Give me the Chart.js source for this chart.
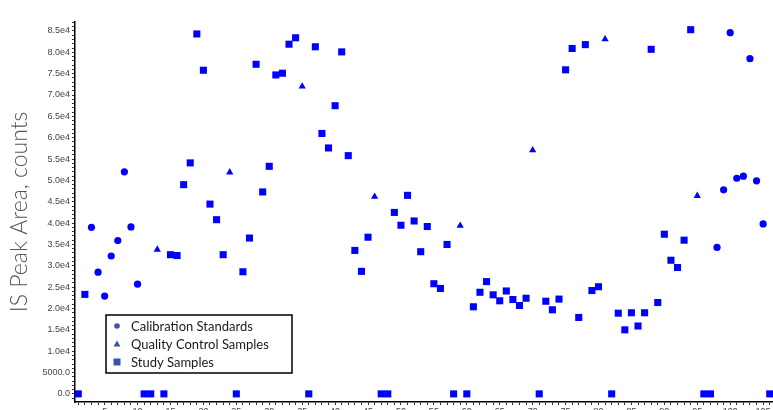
<!DOCTYPE html>
<html>
<head>
<meta charset="utf-8">
<title>IS Peak Area</title>
<script src="https://cdn.jsdelivr.net/npm/chart.js@4.4.0/dist/chart.umd.min.js"></script>
<style>
  html, body { margin: 0; padding: 0; background: #fff; overflow: hidden; }
  #wrap { width: 773px; height: 410px; overflow: hidden; position: relative; }
  #peakChart { display: block; }
</style>
</head>
<body>
<div id="wrap"><canvas id="peakChart" width="785" height="425"></canvas></div>
<script>
// sample index -> IS peak area (counts)
const calSamples = [3, 4, 5, 6, 7, 8, 9, 10, 98, 99, 100, 101, 102, 103, 104, 105];
const calValues = [39000, 28500, 22900, 32300, 35900, 52000, 39100, 25700, 34300, 47800, 84600, 50500, 51000, 78500, 49900, 39800];

const qcSamples = [13, 24, 35, 46, 59, 70, 81, 95];
const qcValues = [33800, 51900, 72000, 46200, 39400, 57100, 83100, 46400];

const studySamples = [1, 2, 11, 12, 14, 15, 16, 17, 18, 19, 20, 21, 22, 23,
    25, 26, 27, 28, 29, 30, 31, 32, 33, 34,
    36, 37, 38, 39, 40, 41, 42, 43, 44, 45,
    47, 48, 49, 50, 51, 52, 53, 54, 55, 56, 57, 58,
    60, 61, 62, 63, 64, 65, 66, 67, 68, 69,
    71, 72, 73, 74, 75, 76, 77, 78, 79, 80,
    82, 83, 84, 85, 86, 87, 88, 89, 90, 91, 92, 93, 94,
    96, 97, 106];
const studyValues = [0, 23300, 0, 0, 0, 32600, 32400, 49000, 54100, 84300, 75800, 44450, 40800, 32600,
    0, 28600, 36500, 77200, 47300, 53300, 74700, 75100, 81900, 83400,
    0, 81300, 61000, 57600, 67500, 80100, 55800, 33600, 28700, 36700,
    0, 0, 42500, 39500, 46500, 40500, 33300, 39200, 25800, 24700, 35000, 0,
    0, 20400, 23800, 26300, 23200, 21800, 24100, 22100, 20700, 22400,
    0, 21700, 19700, 22200, 75900, 80900, 17900, 81800, 24200, 25100,
    0, 18900, 15000, 19000, 15900, 19000, 80700, 21400, 37400, 31300, 29600, 36000, 85300,
    0, 0, 0];

const seriesLabels = ['Calibration Standards', 'Quality Control Samples', 'Study Samples'];

const xTicks = [];
for (let i = 1; i <= 106; i++) xTicks.push(i);
const yTicks = [];
for (let v = -1000; v <= 87000; v += 1000) yTicks.push(v);

function toPoints(xs, ys) {
    return xs.map((x, i) => ({ x: x, y: ys[i] }));
}

function yLabel(v) {
    if (v % 5000 !== 0 || v < 0) return '';
    if (v === 0) return '0.0';
    if (v < 10000) return v.toFixed(1);
    return (v / 10000).toFixed(1) + 'e4';
}

// boxed legend sitting inside the plot, bottom left
const legendBox = {
    id: 'legendBox',
    afterDraw(chart) {
        const ctx = chart.ctx;
        const x = 106, y = 315, w = 186, h = 58;
        ctx.save();
        ctx.fillStyle = '#fff';
        ctx.fillRect(x, y, w, h);
        ctx.strokeStyle = '#000';
        ctx.lineWidth = 1.5;
        ctx.strokeRect(x, y, w, h);
        ctx.font = '13px Lato, "Open Sans", sans-serif';
        ctx.textBaseline = 'middle';
        const rows = [326, 344, 362];
        chart.data.datasets.forEach((ds, i) => {
            const my = rows[i], mx = 117;
            ctx.fillStyle = '#3a52a8';
            ctx.beginPath();
            if (ds.pointStyle === 'circle') {
                ctx.arc(mx, my, 2.8, 0, Math.PI * 2);
            } else if (ds.pointStyle === 'triangle') {
                ctx.moveTo(mx, my - 3.6);
                ctx.lineTo(mx + 3.4, my + 2.4);
                ctx.lineTo(mx - 3.4, my + 2.4);
                ctx.closePath();
            } else {
                ctx.rect(mx - 3.5, my - 3.5, 7, 7);
            }
            ctx.fill();
            ctx.fillStyle = '#1a1a1a';
            ctx.fillText(ds.label, 131, my + 0.5);
        });
        ctx.restore();
    }
};

function initChart() {
    const data = {
        datasets: [{
            label: seriesLabels[0],
            data: toPoints(calSamples, calValues),
            pointStyle: 'circle',
            pointRadius: 3.6,
            backgroundColor: '#0000ff',
            borderColor: '#0000ff',
            borderWidth: 0
        }, {
            label: seriesLabels[1],
            data: toPoints(qcSamples, qcValues),
            pointStyle: 'triangle',
            pointRadius: 4.2,
            backgroundColor: '#0000ff',
            borderColor: '#0000ff',
            borderWidth: 0
        }, {
            label: seriesLabels[2],
            data: toPoints(studySamples, studyValues),
            pointStyle: 'rect',
            pointRadius: 5,
            backgroundColor: '#0000ff',
            borderColor: '#0000ff',
            borderWidth: 0
        }]
    };

    const tickFont = { family: '"Liberation Sans", Arial, sans-serif', size: 9 };

    const config = {
        type: 'scatter',
        data,
        options: {
            responsive: false,
            animation: false,
            clip: false,
            layout: { padding: { top: 22, left: 0, right: 12, bottom: 0 } },
            plugins: {
                legend: { display: false },
                tooltip: { enabled: false }
            },
            scales: {
                x: {
                    type: 'linear',
                    min: 0.5,
                    max: 106.5,
                    afterBuildTicks: (axis) => { axis.ticks = xTicks.map(v => ({ value: v })); },
                    afterFit: (axis) => { axis.height = 23; },
                    border: { display: true, color: '#000', width: 1.5 },
                    grid: { drawOnChartArea: false, drawTicks: true, tickLength: 3, color: '#333' },
                    ticks: {
                        autoSkip: false,
                        maxRotation: 0,
                        padding: 1,
                        color: '#444',
                        font: tickFont,
                        callback: (v) => (v % 5 === 0 ? String(v) : '')
                    }
                },
                y: {
                    type: 'linear',
                    min: -1900,
                    max: 87100,
                    afterBuildTicks: (axis) => { axis.ticks = yTicks.map(v => ({ value: v })); },
                    afterFit: (axis) => { axis.width = 75; },
                    border: { display: true, color: '#000', width: 1.5 },
                    grid: { drawOnChartArea: false, drawTicks: true, tickLength: 3, color: '#333' },
                    ticks: {
                        autoSkip: false,
                        padding: 2,
                        color: '#444',
                        font: tickFont,
                        callback: (v) => yLabel(v)
                    },
                    title: {
                        display: true,
                        text: 'IS Peak Area, counts',
                        color: '#555',
                        font: { family: 'Lato, "Open Sans", sans-serif', size: 23, weight: 300 },
                        padding: { top: 6, bottom: 0 }
                    }
                }
            }
        },
        plugins: [legendBox]
    };

    new Chart(document.getElementById('peakChart'), config);
}

initChart();
</script>
</body>
</html>
